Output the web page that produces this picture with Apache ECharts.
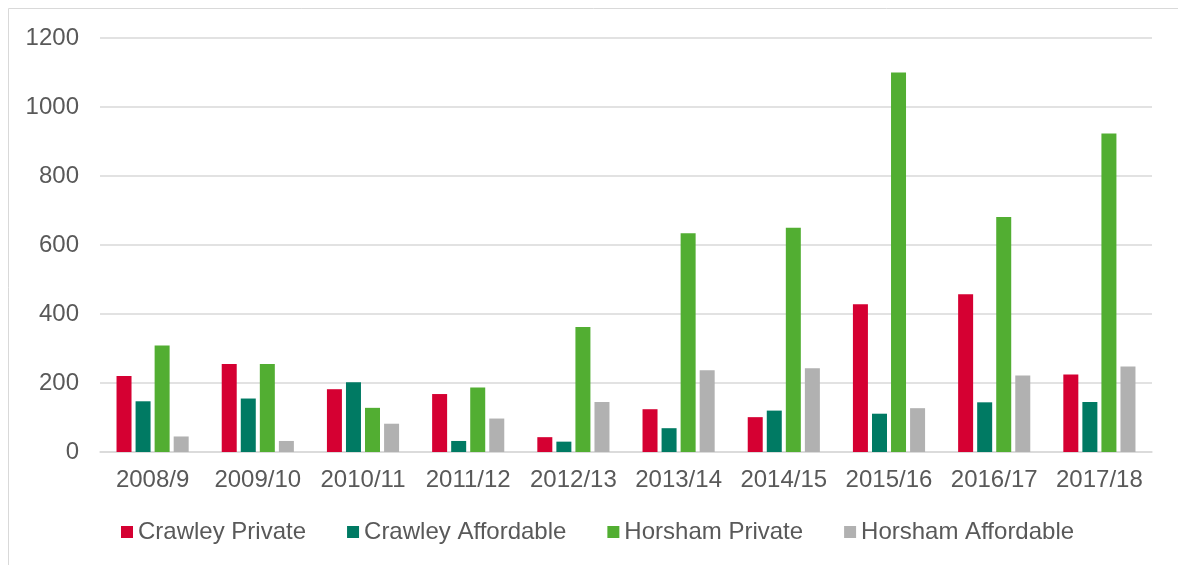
<!DOCTYPE html>
<html lang="en">
<head>
  <meta charset="UTF-8">
  <title>Crawley and Horsham completions</title>
  <script src="https://cdn.jsdelivr.net/npm/echarts@6/dist/echarts.min.js"></script>
  <style>
    html, body { margin: 0; padding: 0; background: #fff; }
    #chart { width: 1178px; height: 565px; }
  </style>
</head>
<body>
<div id="chart"></div>
<script>
  // data
  const years = ['2008/9', '2009/10', '2010/11', '2011/12', '2012/13',
    '2013/14', '2014/15', '2015/16', '2016/17', '2017/18'];
  const crawleyPrivate = [220, 255, 182, 168, 43, 124, 101, 428, 457, 225];
  const crawleyAffordable = [147, 155, 202, 32, 30, 69, 120, 111, 144, 145];
  const horshamPrivate = [309, 255, 128, 187, 362, 634, 650, 1100, 681, 923];
  const horshamAffordable = [45, 32, 82, 97, 145, 237, 243, 127, 222, 248];
  const yTicks = [0, 200, 400, 600, 800, 1000, 1200];

  const textColor = '#595959';
  const font = '"Liberation Sans", Arial, sans-serif';

  let chart = echarts.init(document.getElementById('chart'));

  function bar(name, data, color) {
    return {
      name: name,
      type: 'bar',
      data: data,
      barWidth: 15,
      barGap: '27%',
      itemStyle: { color: color },
      emphasis: { disabled: true }
    };
  }

  let option = {
    animation: false,
    textStyle: { fontFamily: font },
    graphic: [{
      type: 'rect',
      shape: { x: 8.5, y: 8.5, width: 1300, height: 700 },
      style: { fill: 'none', stroke: '#d9d9d9', lineWidth: 1 },
      silent: true
    }],
    grid: { left: 100, right: 26, top: 38, bottom: 113 },
    legend: {
      left: 116,
      top: 515,
      itemWidth: 12,
      itemHeight: 12,
      itemGap: 41,
      icon: 'rect',
      textStyle: { color: textColor, fontSize: 24, fontFamily: font }
    },
    xAxis: {
      type: 'category',
      data: years,
      axisLine: { lineStyle: { color: '#d9d9d9', width: 1.5 } },
      axisTick: { show: false },
      axisLabel: { color: textColor, fontSize: 24, margin: 16, interval: 0 }
    },
    yAxis: {
      type: 'value',
      min: yTicks[0],
      max: yTicks[yTicks.length - 1],
      interval: 200,
      axisLine: { show: false },
      axisTick: { show: false },
      splitLine: { lineStyle: { color: '#d9d9d9', width: 1.5 } },
      axisLabel: {
        color: textColor, fontSize: 24, margin: 21,
        formatter: function (v) { return String(v); }
      }
    },
    series: [
      bar('Crawley Private', crawleyPrivate, '#d50032'),
      bar('Crawley Affordable', crawleyAffordable, '#007a63'),
      bar('Horsham Private', horshamPrivate, '#52ae32'),
      bar('Horsham Affordable', horshamAffordable, '#b1b1b1')
    ]
  };
  chart.setOption(option);
</script>
</body>
</html>
